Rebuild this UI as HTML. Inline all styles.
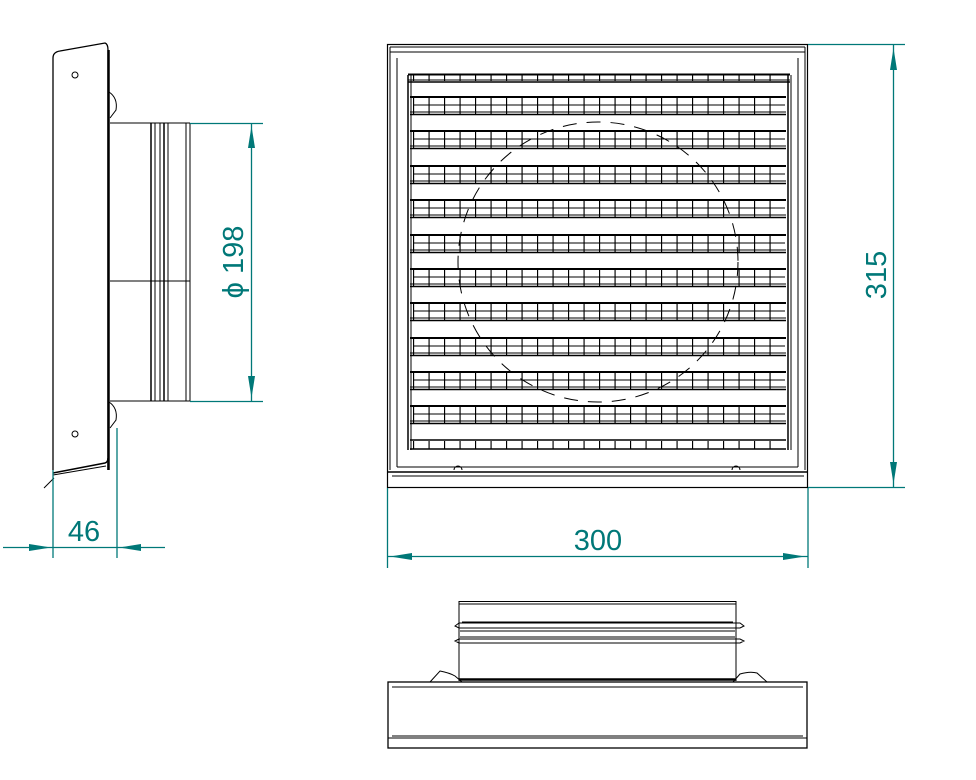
<!DOCTYPE html>
<html><head><meta charset="utf-8"><style>
html,body{margin:0;padding:0;background:#fff}
svg{display:block}
text{font-family:"Liberation Sans",sans-serif;fill:#007878}
</style></head><body>
<svg width="976" height="780" viewBox="0 0 976 780" xmlns="http://www.w3.org/2000/svg">
<defs>
<pattern id="cells" x="413" y="0" width="15.5" height="780" patternUnits="userSpaceOnUse">
<line x1="0.5" y1="0" x2="0.5" y2="780" stroke="#000" stroke-width="1.3"/>
</pattern>
<g id="row">
<rect x="413" y="0" width="372" height="17" fill="url(#cells)"/>
<line x1="410" y1="0" x2="786" y2="0" stroke="#000" stroke-width="2"/>
<line x1="413" y1="8" x2="785" y2="8" stroke="#000" stroke-width="1"/>
<line x1="410" y1="15" x2="786" y2="15" stroke="#000" stroke-width="1"/>
<line x1="410" y1="17.5" x2="786" y2="17.5" stroke="#000" stroke-width="1.5"/>
</g>
</defs>

<!-- FRONT VIEW -->
<g fill="none" stroke="#000">
<rect x="387.5" y="44.5" width="420" height="443" stroke-width="1.2"/>
<line x1="390" y1="47" x2="805" y2="47" stroke-width="1"/>
<line x1="390" y1="52" x2="805" y2="52" stroke-width="1"/>
<line x1="390" y1="47" x2="390" y2="470"/>
<line x1="805" y1="47" x2="805" y2="470"/>
<line x1="397" y1="58" x2="397" y2="467"/>
<line x1="798" y1="58" x2="798" y2="467"/>
<line x1="388" y1="472" x2="807" y2="472" stroke-width="1.5"/>
<line x1="392" y1="476" x2="804" y2="476"/>
<line x1="408" y1="75" x2="408" y2="450" stroke-width="1.5"/>
<line x1="411" y1="75" x2="411" y2="450" stroke-width="1"/>
<line x1="788" y1="75" x2="788" y2="450" stroke-width="1.5"/>
<line x1="791" y1="75" x2="791" y2="450" stroke-width="1"/>
<line x1="397" y1="467" x2="798" y2="467"/>
<!-- top partial strip -->
<line x1="408" y1="74.5" x2="790" y2="74.5" stroke-width="2"/>
<line x1="408" y1="80" x2="790" y2="80" stroke-width="1"/>
<line x1="408" y1="82" x2="790" y2="82" stroke-width="1.5"/>
<!-- circle behind -->
<circle cx="598" cy="262" r="140" stroke-width="1" stroke-dasharray="14 10"/>
</g>
<rect x="413" y="75" width="372" height="6" fill="url(#cells)"/>
<use href="#row" y="97"/>
<use href="#row" y="131"/>
<use href="#row" y="166"/>
<use href="#row" y="200"/>
<use href="#row" y="235"/>
<use href="#row" y="269"/>
<use href="#row" y="303"/>
<use href="#row" y="338"/>
<use href="#row" y="372"/>
<use href="#row" y="406"/>
<g>
<rect x="413" y="441" width="372" height="8" fill="url(#cells)"/>
<line x1="410" y1="440" x2="786" y2="440" stroke="#000" stroke-width="1.5"/>
<line x1="410" y1="449" x2="786" y2="449" stroke="#000" stroke-width="1.5"/>
</g>
<g fill="none" stroke="#000" stroke-width="1">
<path d="M454 470 a4 4 0 0 1 8 0"/><path d="M732 470 a4 4 0 0 1 8 0"/>
</g>

<!-- dims front -->
<g stroke="#007878" stroke-width="1.3" fill="#007878">
<line x1="808" y1="44.5" x2="905" y2="44.5"/>
<line x1="808" y1="487.5" x2="905" y2="487.5"/>
<line x1="893.5" y1="45" x2="893.5" y2="487"/>
<polygon points="893.5,48 890,70 897,70" stroke="none"/>
<polygon points="893.5,484 890,462 897,462" stroke="none"/>
<line x1="387.5" y1="488" x2="387.5" y2="568"/>
<line x1="808" y1="488" x2="808" y2="568"/>
<line x1="388" y1="556.5" x2="808" y2="556.5"/>
<polygon points="390,556.5 412,553 412,560" stroke="none"/>
<polygon points="805,556.5 783,553 783,560" stroke="none"/>
</g>
<text x="598" y="550" font-size="29" text-anchor="middle">300</text>
<text transform="translate(886,275) rotate(-90)" font-size="29" text-anchor="middle">315</text>

<!-- SIDE VIEW -->
<g fill="none" stroke="#000">
<path d="M53 470 L53 58 Q53 52 60 51 L105 43 Q108 44 108 50 L108 470" stroke-width="1.3"/>
<line x1="108.5" y1="50" x2="108.5" y2="470" stroke-width="2.5"/>
<path d="M53 473 L105 463 Q108 462 108 458" stroke-width="1.5"/>
<path d="M53 475 L106 466" stroke-width="1"/>
<line x1="44" y1="488" x2="54" y2="478"/>
<path d="M109 92 Q118 98 116 110 L110 118"/>
<path d="M109 402 Q118 408 116 420 L110 428"/>
<circle cx="75" cy="75" r="3"/><circle cx="75" cy="434" r="3"/>
<line x1="110" y1="123" x2="190" y2="123"/>
<line x1="110" y1="401" x2="190" y2="401"/>
<line x1="110" y1="281" x2="190" y2="281"/>
<line x1="151" y1="123" x2="151" y2="401" stroke-width="1.5"/>
<line x1="155" y1="123" x2="155" y2="401"/>
<line x1="160" y1="123" x2="160" y2="401"/>
<line x1="164" y1="123" x2="164" y2="401" stroke-width="1.5"/>
<line x1="168" y1="123" x2="168" y2="401"/>
<line x1="186" y1="123" x2="186" y2="401"/>
<line x1="190" y1="123" x2="190" y2="401"/>
</g>
<g stroke="#007878" stroke-width="1.3" fill="#007878">
<line x1="190" y1="123.5" x2="263" y2="123.5"/>
<line x1="190" y1="401.5" x2="263" y2="401.5"/>
<line x1="251.5" y1="124" x2="251.5" y2="401"/>
<polygon points="251.5,126 248,148 255,148" stroke="none"/>
<polygon points="251.5,398 248,376 255,376" stroke="none"/>
<line x1="53" y1="470" x2="53" y2="558"/>
<line x1="117" y1="428" x2="117" y2="558"/>
<line x1="3" y1="547.5" x2="165" y2="547.5"/>
<polygon points="51,547.5 29,544 29,551" stroke="none"/>
<polygon points="119,547.5 141,544 141,551" stroke="none"/>
</g>
<text x="84" y="541" font-size="29" text-anchor="middle">46</text>
<text transform="translate(243,262) rotate(-90)" font-size="29" text-anchor="middle">ϕ 198</text>

<!-- BOTTOM VIEW -->
<g fill="none" stroke="#000">
<rect x="388" y="682" width="419" height="66" stroke-width="1.3"/>
<line x1="392" y1="687" x2="803" y2="687"/>
<line x1="392" y1="736" x2="803" y2="736"/>
<line x1="388" y1="738" x2="807" y2="738"/>
<line x1="459" y1="601" x2="459" y2="681"/>
<line x1="736" y1="601" x2="736" y2="681"/>
<line x1="459" y1="601.5" x2="736" y2="601.5"/>
<line x1="459" y1="604" x2="736" y2="604"/>
<path d="M459 623 L455 626 L459 628 L740 628 L744 626 L740 623 Z"/>
<line x1="462" y1="622" x2="733" y2="622"/>
<line x1="460" y1="631" x2="735" y2="631"/>
<line x1="460" y1="637" x2="735" y2="637"/>
<path d="M459 639 L455 641 L459 643 L740 643 L744 641 L740 639 Z"/>
<line x1="459" y1="679.5" x2="736" y2="679.5" stroke-width="2.5"/>
<path d="M430 682 L440 671 Q450 673 455 676 L462 682"/>
<path d="M733 682 L740 674 Q750 671 757 673 L767 682"/>
</g>
</svg>
</body></html>
